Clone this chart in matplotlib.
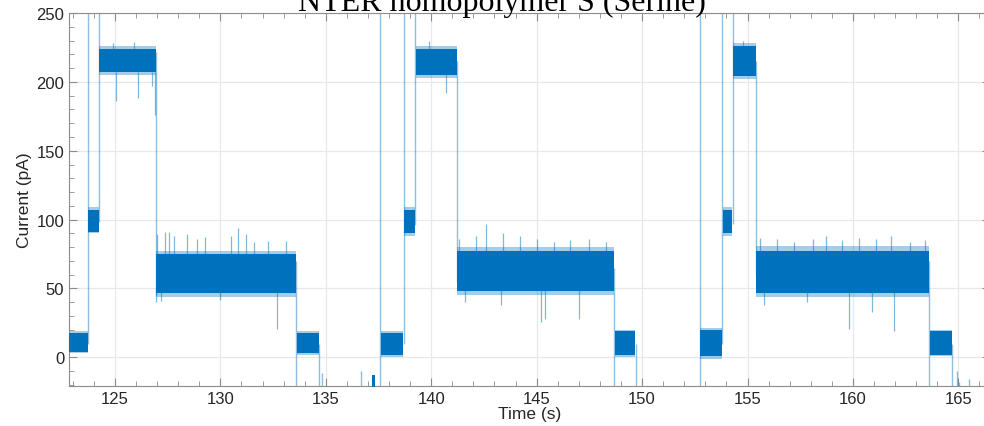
import numpy as np
import matplotlib
matplotlib.use("Agg")
import matplotlib.pyplot as plt
from matplotlib.ticker import MultipleLocator

BLUE = "#0072BD"
plt.rcParams["font.family"] = ["Liberation Sans", "DejaVu Sans"]

# current levels: start/end time (s), outer noise envelope, dense core (pA)
seg_t0 = [122.82, 123.72, 124.25, 126.95, 133.62,
          137.60, 138.70, 139.27, 141.22, 148.70,
          152.76, 153.82, 154.32, 155.40, 163.65]
seg_t1 = [123.70, 124.22, 126.93, 133.58, 134.68,
          138.68, 139.24, 141.20, 148.66, 149.68,
          153.80, 154.28, 155.38, 163.62, 164.70]
seg_lo = [3, 90, 205, 44, 2,
          0, 88, 203, 45, 0,
          -1, 88, 202, 44, 1]
seg_hi = [19, 109, 226, 77, 19,
          19, 109, 226, 80, 20,
          21, 109, 228, 81, 20]
core_lo = [4, 91, 207, 47, 3,
           2, 90, 205, 48, 2,
           1, 90, 204, 47, 2]
core_hi = [18, 107, 224, 75, 18,
           18, 107, 224, 77, 19,
           20, 107, 226, 77, 19]

# transitions / excursions drawn as thin vertical lines (time, from, to)
tr_t = [123.71, 124.23, 126.93, 133.60, 134.69, 134.80, 136.65,
        137.58, 138.69, 139.25, 141.21, 148.68, 149.69,
        152.75, 153.81, 154.30, 155.39, 163.63, 164.70, 164.95, 165.05, 165.50]
tr_lo = [10, 98, 45, -25, -25, -25, -25,
         -25, 10, 96, 55, -25, -25,
         -25, 10, 97, 60, -25, -25, -25, -25, -25]
tr_hi = [260, 260, 222, 70, 10, -11, -10,
         260, 260, 260, 215, 65, 10,
         260, 260, 260, 215, 70, 10, -10, -18, -16]

# short spikes out of the noise band (time, base, tip)
sp_t = [127.00, 127.38, 127.58, 127.80, 128.40, 128.88, 129.27, 130.50, 130.85,
        131.20, 131.60, 132.25, 133.10, 126.95, 127.20, 130.00, 132.70,
        125.05, 126.10, 126.75, 126.90, 124.9, 125.9,
        141.30, 142.10, 142.60, 143.40, 144.20, 145.00, 145.80, 146.60, 147.50, 148.30,
        141.60, 143.30, 145.20, 145.40, 147.00, 140.70, 139.9,
        155.60, 156.40, 157.20, 158.10, 158.70, 159.50, 160.30, 161.10, 161.80, 162.70, 163.40,
        155.80, 159.80, 160.90, 161.97, 154.8, 157.8]
sp_b = [70, 70, 70, 70, 70, 70, 70, 70, 70,
        70, 70, 70, 70, 50, 50, 50, 50,
        207, 207, 207, 207, 222, 222,
        72, 72, 72, 72, 72, 72, 72, 72, 72, 72,
        50, 50, 50, 50, 50, 206, 222,
        73, 73, 73, 73, 73, 73, 73, 73, 73, 73, 73,
        50, 50, 50, 50, 222, 50]
sp_v = [89.6, 90.8, 90.8, 88.4, 89.6, 86.0, 87.2, 88.4, 93.7,
        89.6, 83.6, 84.8, 84.8, 40, 41, 42, 20.6,
        186, 188, 197, 176, 228, 229,
        86, 88, 97, 90, 88, 86, 84, 85, 86, 84,
        40, 38, 25.4, 28, 27.8, 192, 230,
        87, 86, 84, 86, 88, 85, 87, 86, 88, 84, 85,
        38, 20.6, 32.7, 19.5, 230, 40]

# small blob below the baseline near 137.2 s
blob_t = [137.20, 137.33]
blob_v = [-25, -13]

fig = plt.figure(figsize=(9.84, 4.27), dpi=100)
ax = fig.add_axes([69 / 984, 1 - 387.3 / 427, (990 - 69) / 984, (387.3 - 14) / 427])

for t0, t1, lo, hi, clo, chi in zip(seg_t0, seg_t1, seg_lo, seg_hi, core_lo, core_hi):
    ax.fill_between([t0, t1], [lo, lo], [hi, hi], color=BLUE, alpha=0.35, lw=0, zorder=2)
    ax.fill_between([t0, t1], [clo, clo], [chi, chi], color=BLUE, lw=0, zorder=3)

ax.vlines(tr_t, tr_lo, tr_hi, color=BLUE, alpha=0.45, lw=1.0, zorder=2)
ax.vlines(sp_t, sp_b, sp_v, color=BLUE, alpha=0.5, lw=0.9, zorder=2)
ax.fill_between(blob_t, [blob_v[0]] * 2, [blob_v[1]] * 2, color=BLUE, lw=0, zorder=3)

ax.set_xlim(122.82, 166.5)
ax.set_ylim(-21, 250)
ax.xaxis.set_major_locator(MultipleLocator(5))
ax.xaxis.set_minor_locator(MultipleLocator(1))
ax.yaxis.set_major_locator(MultipleLocator(50))
ax.yaxis.set_minor_locator(MultipleLocator(10))
ax.tick_params(which="both", direction="in", top=True, right=True,
               color="#8c8c8c", labelcolor="#262626", labelsize=12)
ax.tick_params(which="major", length=6)
ax.tick_params(which="minor", length=3.5)
ax.grid(True, which="major", color="#e8e8e8", lw=0.9)
ax.set_axisbelow(True)
for s in ax.spines.values():
    s.set_color("#8c8c8c")

ax.set_xlabel("Time (s)", fontsize=12.5, color="#262626", labelpad=0)
ax.set_ylabel("Current (pA)", fontsize=12.5, color="#262626", labelpad=3)

fig.text(0.5097, 1 - 11 / 427, "NTER homopolymer S (Serine)", ha="center", va="baseline",
         fontsize=23, family="Liberation Serif", color="black")

fig.savefig("out.png", dpi=100)
